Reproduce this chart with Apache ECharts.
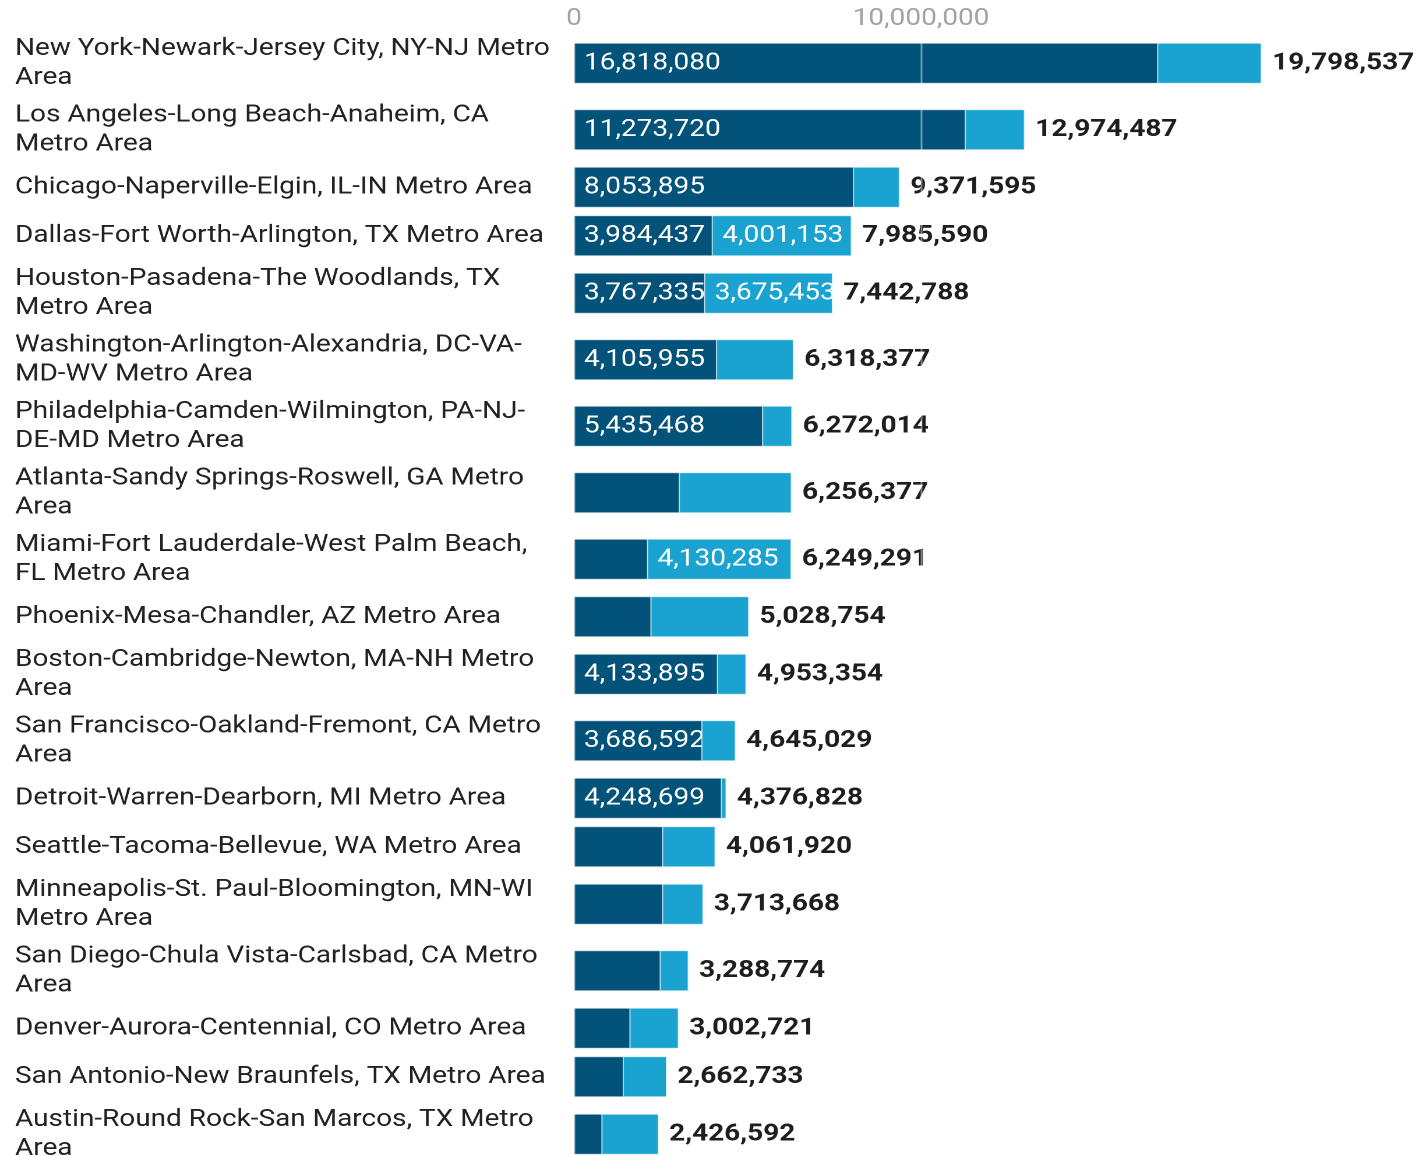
<!DOCTYPE html>
<html>
<head>
<meta charset="utf-8">
<script src="https://cdn.jsdelivr.net/npm/echarts@6/dist/echarts.min.js"></script>
<style>
html,body{margin:0;padding:0;background:#fff;overflow:hidden}
#wrap{width:1420px;height:1156px;overflow:hidden;position:relative;background:#fff}
#chart{position:absolute;left:0;top:0;height:1156px;transform-origin:0 0}
</style>
</head>
<body>
<div id="wrap"><div id="chart"></div></div>
<script>
const categories = [
  'New York-Newark-Jersey City, NY-NJ Metro\nArea',
  'Los Angeles-Long Beach-Anaheim, CA\nMetro Area',
  'Chicago-Naperville-Elgin, IL-IN Metro Area',
  'Dallas-Fort Worth-Arlington, TX Metro Area',
  'Houston-Pasadena-The Woodlands, TX\nMetro Area',
  'Washington-Arlington-Alexandria, DC-VA-\nMD-WV Metro Area',
  'Philadelphia-Camden-Wilmington, PA-NJ-\nDE-MD Metro Area',
  'Atlanta-Sandy Springs-Roswell, GA Metro\nArea',
  'Miami-Fort Lauderdale-West Palm Beach,\nFL Metro Area',
  'Phoenix-Mesa-Chandler, AZ Metro Area',
  'Boston-Cambridge-Newton, MA-NH Metro\nArea',
  'San Francisco-Oakland-Fremont, CA Metro\nArea',
  'Detroit-Warren-Dearborn, MI Metro Area',
  'Seattle-Tacoma-Bellevue, WA Metro Area',
  'Minneapolis-St. Paul-Bloomington, MN-WI\nMetro Area',
  'San Diego-Chula Vista-Carlsbad, CA Metro\nArea',
  'Denver-Aurora-Centennial, CO Metro Area',
  'San Antonio-New Braunfels, TX Metro Area',
  'Austin-Round Rock-San Marcos, TX Metro\nArea'
];
const darkValues = [
  16818080, 11273720, 8053895, 3984437, 3767335, 4105955, 5435468, 3035000, 2119006, 2219000,
  4133895, 3686592, 4248699, 2556000, 2556000, 2487000, 1614000, 1421000, 807000
];
const lightValues = [
  2980457, 1700767, 1317700, 4001153, 3675453, 2212422, 836546, 3221377, 4130285, 2809754,
  819459, 958437, 128129, 1505920, 1157668, 801774, 1388721, 1241733, 1619592
];
const xTickValues = [0, 10000000];

// layout / style constants
const S = 1.165;                // horizontal stretch of the reference rendering
const W = 1420 / S;
const ROW_ONE = 48.5, ROW_TWO = 66.5;
const BAR_H = 40;
const DARK = '#02527a', LIGHT = '#1aa3d0';
const FONT = 'Roboto';
const LABEL_MIN = 3500000;

const rowCenters = [];
let acc = 0;
categories.forEach(function (c) {
  const h = c.indexOf('\n') >= 0 ? ROW_TWO : ROW_ONE;
  rowCenters.push(acc + h / 2);
  acc += h;
});
const totalUnits = acc;

const fmt = function (v) { return Math.round(v).toLocaleString('en-US'); };

const el = document.getElementById('chart');
el.style.width = W + 'px';
el.style.transform = 'scaleX(' + S + ')';
const chart = echarts.init(el, null, { renderer: 'canvas', devicePixelRatio: 2 });

function insideText(v, x0, x1, yc) {
  const pad = 10 / S;
  return {
    type: 'text', x: x0 + pad, y: yc,
    style: { text: fmt(v), fill: '#ffffff', font: '24px ' + FONT, align: 'left', verticalAlign: 'middle' },
    clipPath: { type: 'rect', shape: { x: -pad, y: -BAR_H / 2, width: x1 - x0, height: BAR_H } }
  };
}

function renderItem(params, api) {
  const d = api.value(0), l = api.value(1), yv = api.value(2);
  const p0 = api.coord([0, yv]);
  const p1 = api.coord([d, yv]);
  const p2 = api.coord([d + l, yv]);
  const top = p0[1] - BAR_H / 2;
  const stroke = 'rgba(255,255,255,0.55)';
  const children = [
    { type: 'rect', shape: { x: p0[0], y: top, width: p1[0] - p0[0], height: BAR_H },
      style: { fill: DARK, stroke: stroke, lineWidth: 1 } },
    { type: 'rect', shape: { x: p1[0], y: top, width: p2[0] - p1[0], height: BAR_H },
      style: { fill: LIGHT, stroke: stroke, lineWidth: 1 } }
  ];
  if (d >= LABEL_MIN) children.push(insideText(d, p0[0], p1[0], p0[1]));
  if (l >= LABEL_MIN) children.push(insideText(l, p1[0], p2[0], p0[1]));
  children.push({
    type: 'text', x: p2[0] + 11 / S, y: p0[1],
    style: { text: fmt(d + l), fill: '#1e1e1e', font: 'bold 24px ' + FONT, align: 'left', verticalAlign: 'middle' }
  });
  return { type: 'group', children: children };
}

const data = categories.map(function (c, i) {
  return [darkValues[i], lightValues[i], rowCenters[i], i];
});

function nameAt(v) {
  let best = 0, bd = Infinity;
  rowCenters.forEach(function (r, i) { const dd = Math.abs(r - v); if (dd < bd) { bd = dd; best = i; } });
  return categories[best];
}

const interval = xTickValues[1] - xTickValues[0];

chart.setOption({
  animation: false,
  backgroundColor: '#ffffff',
  grid: { left: 574 / S, right: 152 / S, top: 30, height: totalUnits, containLabel: false, outerBoundsMode: 'none' },
  xAxis: {
    type: 'value', position: 'top', min: 0, max: interval * 2, interval: interval, z: 10,
    axisLine: { show: false }, axisTick: { show: false },
    axisLabel: { showMaxLabel: false, color: '#a3a3a3', fontSize: 24, fontFamily: FONT, margin: -1,
      formatter: function (v) { return fmt(v); } },
    splitLine: { show: true, lineStyle: { color: 'rgba(255,255,255,0.45)', width: 1.5 } }
  },
  yAxis: {
    type: 'value', inverse: true, min: 0, max: totalUnits,
    axisLine: { show: false }, axisTick: { show: false }, splitLine: { show: false },
    axisLabel: {
      customValues: rowCenters, formatter: function (v) { return nameAt(v); },
      align: 'left', margin: (574 - 15) / S, color: '#222222', fontSize: 24, lineHeight: 29, fontFamily: FONT
    }
  },
  series: [{
    type: 'custom', name: 'metro', renderItem: renderItem, data: data,
    encode: { x: [0, 1], y: 2 }, clip: false
  }]
});
</script>
</body>
</html>
